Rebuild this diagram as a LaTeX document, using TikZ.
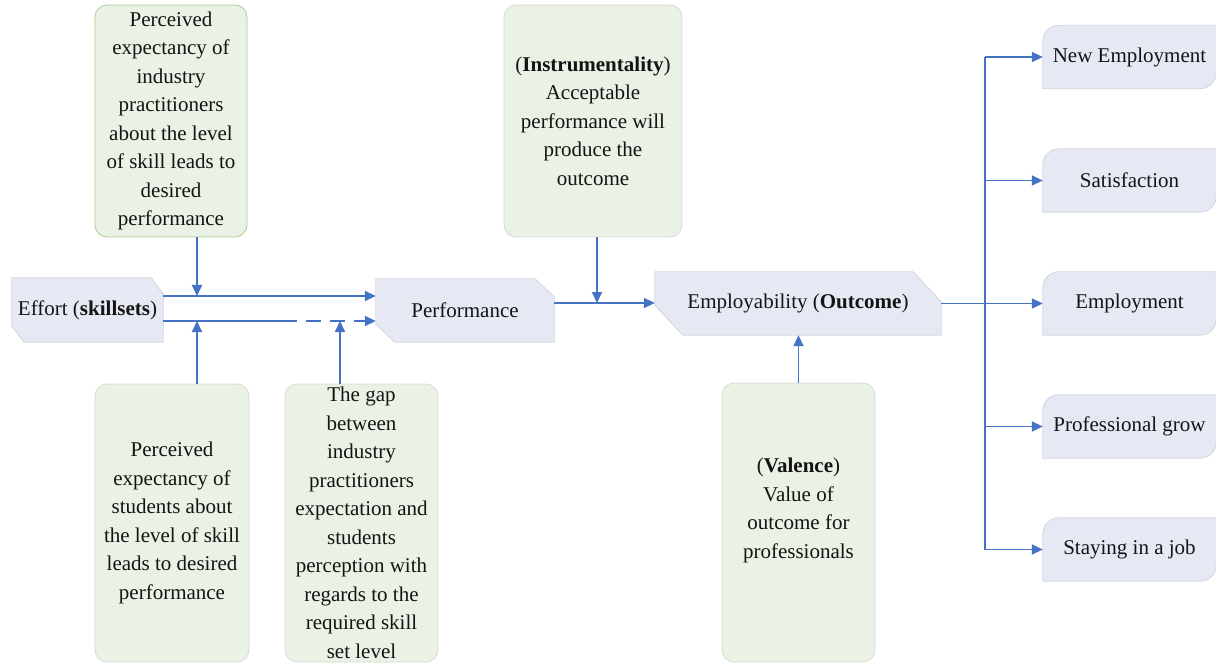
\documentclass[tikz,border=0pt]{standalone}
\usepackage{fontspec}
\setmainfont{Liberation Serif}
\newfontfamily\labelfont{Liberation Serif}
\usetikzlibrary{calc,arrows.meta,backgrounds}

\definecolor{linkblue}{HTML}{4472C4}
\definecolor{boxblue}{HTML}{E6E9F4}
\definecolor{boxblueline}{HTML}{D0D5E0}
\definecolor{boxgreen}{HTML}{EAF1E5}
\definecolor{boxgreenline}{HTML}{D7DCD3}
\definecolor{boxgreenedge}{HTML}{A9D08E}

\tikzset{
  txt/.style={font=\labelfont\fontsize{21}{28.5}\selectfont, align=center, inner sep=0pt, text=black!92},
  stagebox/.style={txt, draw=none, fill=none},
  notebox/.style={txt, draw=boxgreenline, fill=boxgreen, line width=0.8pt, rounded corners=12pt},
  bluefill/.style={fill=boxblue, draw=boxblueline, line width=0.8pt},
  link/.style={draw=linkblue, line width=1.8pt},
  arr/.style={link, -{Triangle[length=11pt,width=10pt]}},
}

% rectangle with the top-right and bottom-left corners cut off
\newcommand\snipshape[3]{%
  \path[bluefill] (#1.north west) -- ($(#1.north east)+(-#2pt,0)$)
    -- ($(#1.north east)+(0,-#3pt)$) -- (#1.south east)
    -- ($(#1.south west)+(#2pt,0)$) -- ($(#1.south west)+(0,#3pt)$) -- cycle;}
% rectangle with rounded top-left and bottom-right corners
\newcommand\rdshape[1]{%
  \path[bluefill] (#1.south west) -- ($(#1.north west)+(0,-16pt)$)
    arc[start angle=180, end angle=90, radius=16pt]
    -- (#1.north east) -- ($(#1.south east)+(0,16pt)$)
    arc[start angle=0, end angle=-90, radius=16pt] -- cycle;}

\begin{document}
\begin{tikzpicture}[x=1pt,y=-1pt]
\useasboundingbox (0,0) rectangle (1216,663);
\clip (0,0) rectangle (1216,663);

% stage boxes
\node[stagebox, minimum width=151pt, minimum height=64pt] (eff) at (87.5,310) {Effort (\textbf{skillsets})};
\node[stagebox, minimum width=178pt, minimum height=63pt] (perf) at (465,310.5) {Performance};
\node[stagebox, minimum width=286pt, minimum height=63pt] (emp) at (798,303.5) {Employability (\textbf{Outcome})};

% outcome boxes
\foreach \n/\y/\t in {o1/57/New Employment, o2/180.5/Satisfaction, o3/303.5/Employment,
                      o4/426.5/Professional grow, o5/549.5/Staying in a job}
  \node[stagebox, minimum width=173pt, minimum height=63pt] (\n) at (1129.5,\y) {\t};

% note boxes
\node[notebox, draw=boxgreenedge, minimum width=152pt, minimum height=232pt] (g1) at (171,121)
  {Perceived\\expectancy of\\industry\\practitioners\\about the level\\of skill leads to\\desired\\performance};
\node[notebox, minimum width=178pt, minimum height=232pt] (g2) at (593,121)
  {(\textbf{Instrumentality})\\Acceptable\\performance will\\produce the\\outcome};
\node[notebox, minimum width=154pt, minimum height=278pt] (g3) at (172,523)
  {Perceived\\expectancy of\\students about\\the level of skill\\leads to desired\\performance};
\node[notebox, minimum width=153pt, minimum height=278pt] (g4) at (361.5,523)
  {The gap\\between\\industry\\practitioners\\expectation and\\students\\perception with\\regards to the\\required skill\\set level};
\node[notebox, minimum width=153pt, minimum height=279pt] (val) at (798.5,522.5)
  {(\textbf{Valence})\\Value of\\outcome for\\professionals\\\mbox{}};

\begin{pgfonlayer}{background}
  \snipshape{eff}{12}{16}
  \snipshape{perf}{19}{18}
  \snipshape{emp}{28}{30}
  \foreach \n in {o1,o2,o3,o4,o5} {\rdshape{\n}}
\end{pgfonlayer}

% junctions on the links
\coordinate (j1) at (197,296);
\coordinate (j2) at (197,321);
\coordinate (j3) at (340,321);
\coordinate (jd) at (282,321);
\coordinate (j4) at (597,303);
\coordinate (t1) at (985,57);
\coordinate (t5) at (985,549.5);

% effort to performance
\draw[arr] (eff.east |- j1) -- (perf.west |- j1);
\draw[link] (eff.east |- j2) -- (jd);
\draw[arr, dash pattern=on 15pt off 9pt] (jd) -- (perf.west |- j2);
\draw[arr] (g1.south -| j1) -- (j1);
\draw[arr] (g3.north -| j2) -- (j2);
\draw[arr] (g4.north -| j3) -- (j3);

% performance to employability
\draw[arr] (perf.east |- j4) -- (emp.west |- j4);
\draw[arr] (g2.south -| j4) -- (j4);
\draw[arr] (val.north) -- (emp.south -| val.north);

% employability to outcomes
\draw[link] (t1) -- (t5);
\draw[arr] (emp.east) -- (o3.west);
\foreach \n in {o1,o2,o4,o5}
  \draw[arr] (\n.west -| t1) -- (\n.west);
\end{tikzpicture}
\end{document}
